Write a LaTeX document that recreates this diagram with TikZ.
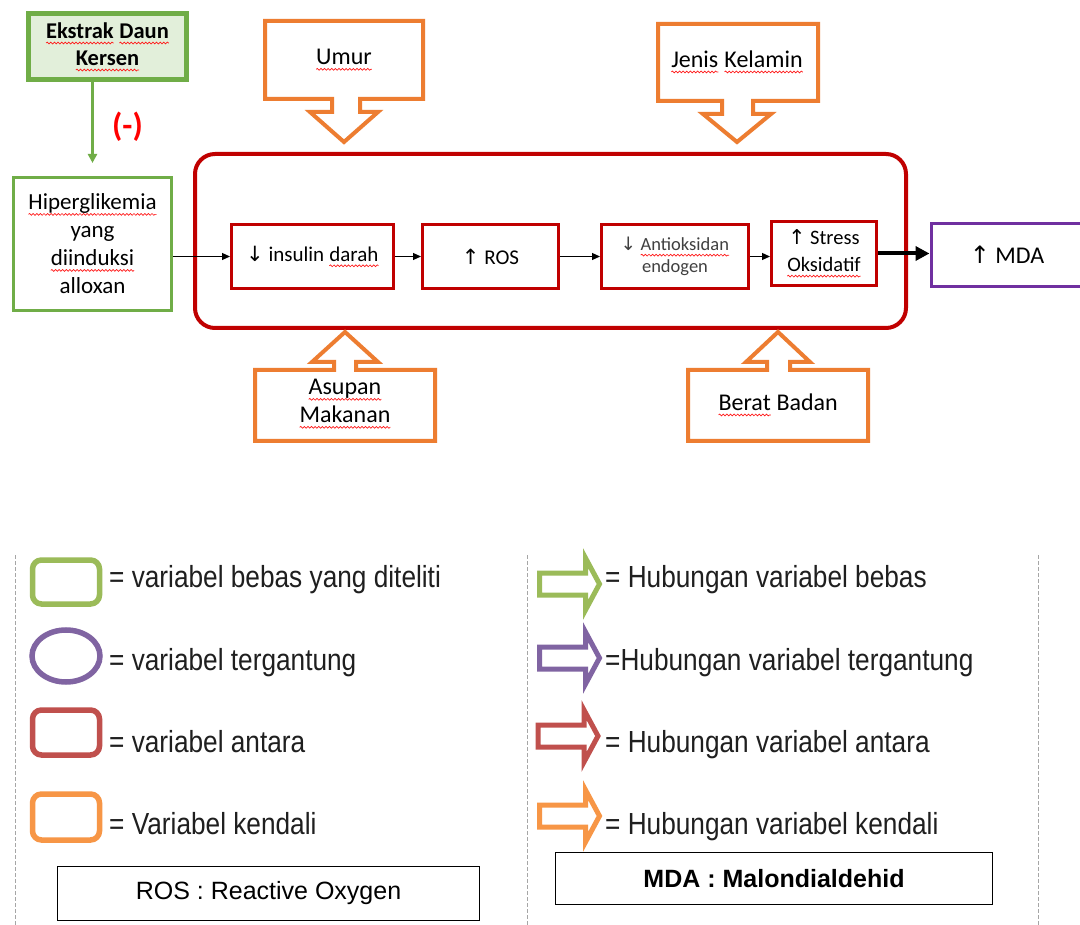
\documentclass[tikz,border=0pt]{standalone}
\usepackage{fontspec}
\setmainfont{Carlito}
\newfontfamily\arialf{Liberation Sans}
\newfontfamily\narrowf[FakeStretch=0.86]{Liberation Sans}
\newfontfamily\symf{DejaVu Sans}
\usetikzlibrary{arrows.meta,shapes.geometric,decorations.pathmorphing}
\definecolor{gd}{HTML}{70AD47}
\definecolor{gfill}{HTML}{E2EFDA}
\definecolor{rd}{HTML}{C00000}
\definecolor{org}{HTML}{ED7D31}
\definecolor{pur}{HTML}{7030A0}
\definecolor{lgreen}{HTML}{9BBB59}
\definecolor{lpur}{HTML}{8064A2}
\definecolor{lred}{HTML}{C0504D}
\definecolor{lorg}{HTML}{F79646}
\definecolor{negred}{HTML}{FF0000}
\newcommand\sq[1]{\tikz[baseline=(sqw.base)]{\node[shape=rectangle, inner sep=0pt, outer sep=0pt, minimum size=0pt, draw=none, fill=none, anchor=center] (sqw) {#1};
  \draw[red!90, line width=0.7pt, decorate, decoration={snake, amplitude=0.9pt, segment length=3.6pt}] ([yshift=-4.5pt]sqw.base west) -- ([yshift=-4.5pt]sqw.base east);}}
\newcommand\upa{{\symf ↑}}
\newcommand\dna{{\symf ↓}}
\begin{document}
\begin{tikzpicture}[x=1pt,y=-1pt,
  chainbox/.style={draw=rd, line width=3pt, minimum height=64pt, inner sep=0pt, align=center, font=\fontsize{21}{26}\selectfont},
  callout/.style={draw=org, line width=4pt, fill=white, line join=miter},
  ctext/.style={font=\fontsize{24}{28}\selectfont, align=center},
  conn/.style={-{Triangle[length=8pt,width=7pt]}, line width=1.2pt},
  lshape/.style={line width=5.5pt, rounded corners=9pt, minimum width=67pt, inner sep=0pt},
  ltext/.style={anchor=base west, font=\narrowf\fontsize{30.5}{34}\selectfont, text=black!88, inner sep=0pt},
  keybox/.style={draw, line width=1.2pt, inner sep=0pt},
  larrow/.pic={\draw[line width=5pt, line join=miter] (0,-11) -- (46,-11) -- (46,-26) -- (60,0) -- (46,26) -- (46,11) -- (0,11) -- cycle;}
]
\clip (0,0) rectangle (1080,925);
\fill[white] (0,0) rectangle (1080,925);

% top-left
\node[draw=gd, line width=5pt, fill=gfill, minimum width=158pt, minimum height=66pt, inner sep=0pt, align=center,
  font=\bfseries\fontsize{22.5}{27}\selectfont] (ek) at (107.5,47) {\sq{Ekstrak} \sq{Daun}\\\sq{Kersen}};
\node[draw=gd, line width=3pt, minimum width=158pt, minimum height=133pt, inner sep=0pt, align=center,
  font=\fontsize{23}{28}\selectfont] (hip) at (92.5,244) {\sq{Hiperglikemia}\\yang\\\sq{diinduksi}\\alloxan};
\coordinate (gtip) at (92.5,163);
\draw[gd, line width=2.5pt, -{Triangle[length=9pt,width=9pt]}] (ek.south -| hip.north) -- (gtip);
\node[text=negred, font=\bfseries\fontsize{33}{36}\selectfont] (neg) at (127.5,127) {(-)};

% frame
\node[draw=rd, line width=4pt, rounded corners=20pt, minimum width=711pt, minimum height=174pt] (frame) at (550.5,241) {};

% chain
\node[chainbox, minimum width=162pt] (ins) at (312.5,256.5) {\dna\ insulin \sq{darah}};
\node[chainbox, minimum width=136pt] (ros) at (490.5,256.5) {\upa\ ROS};
\node[chainbox, minimum width=147pt, font=\fontsize{18.5}{22}\selectfont, text=black!75] (anti) at (675,256.5) {\dna\ \sq{Antioksidan}\\endogen};
\node[chainbox, minimum width=105pt, font=\fontsize{20.5}{27}\selectfont] (str) at (824,253.5) {\upa\ Stress\\\sq{Oksidatif}};
\node[draw=pur, line width=3pt, minimum width=152pt, minimum height=63pt, font=\fontsize{24}{26}\selectfont] (mda) at (1007,255) {\upa\ MDA};

\draw[conn] (hip.east |- ins.west) -- (ins.west);
\draw[conn] (ins.east) -- (ros.west);
\draw[conn] (ros.east) -- (anti.west);
\draw[conn] (anti.east) -- (anti.east -| str.west);
\draw[line width=4pt, -{Triangle[length=14pt,width=14pt]}] (str.east) -- (str.east -| mda.west);

% callouts
\draw[callout] (265,21) -- (423,21) -- (423,99) -- (360,99) -- (360,112) -- (378,112) -- (344,142) -- (310,112) -- (332,112) -- (332,99) -- (265,99) -- cycle;
\node[ctext] (umur) at (344,60) {\sq{Umur}};
\draw[callout] (658,24) -- (818,24) -- (818,101) -- (753,101) -- (753,114) -- (771,114) -- (737,142) -- (703,114) -- (722,114) -- (722,101) -- (658,101) -- cycle;
\node[ctext] (jenis) at (737,62) {\sq{Jenis} \sq{Kelamin}};
\draw[callout] (255,441) -- (435,441) -- (435,370) -- (356,370) -- (356,362) -- (378,362) -- (345,332) -- (312,362) -- (334,362) -- (334,370) -- (255,370) -- cycle;
\node[ctext] (asupan) at (345,404) {\sq{Asupan}\\\sq{Makanan}};
\draw[callout] (688,441) -- (868,441) -- (868,370) -- (790,370) -- (790,362) -- (810,362) -- (778,332) -- (746,362) -- (767,362) -- (767,370) -- (688,370) -- cycle;
\node[ctext] (berat) at (778,405) {\sq{Berat} Badan};

% legend separators
\foreach \lx in {15,527,1038}
  \draw[gray!70, line width=0.8pt, dash pattern=on 4pt off 2pt] (\lx,555) -- (\lx,925);

% legend left
\node[lshape, draw=lgreen, minimum height=44pt] (lg) at (66,582) {};
\node[ellipse, draw=lpur, line width=5.5pt, minimum width=68pt, minimum height=52pt, inner sep=0pt] (lp) at (66,656) {};
\node[lshape, draw=lred, minimum height=45pt] (lr) at (66,732.5) {};
\node[lshape, draw=lorg, minimum height=46pt] (lo) at (66,817) {};
\node[ltext] (tg) at (109,587) {= variabel bebas yang diteliti};
\node[ltext] (tp) at (109,670) {= variabel tergantung};
\node[ltext] (tr) at (109,752) {= variabel antara};
\node[ltext] (to) at (109,834) {= Variabel kendali};

% legend right
\pic[color=lgreen] at (539.5,584) {larrow};
\pic[color=lpur] at (539.5,658) {larrow};
\pic[color=lred] at (538,736) {larrow};
\pic[color=lorg] at (539.5,816) {larrow};
\node[ltext] (hg) at (605,587) {= Hubungan variabel bebas};
\node[ltext] (hp) at (605,670) {=Hubungan variabel tergantung};
\node[ltext] (hr) at (605,752) {= Hubungan variabel antara};
\node[ltext] (ho) at (605,834) {= Hubungan variabel kendali};

% key boxes
\node[keybox, minimum width=422pt, minimum height=54pt, font=\arialf\fontsize{25}{30}\selectfont] (rosbox) at (268.5,893.5) {ROS : Reactive Oxygen};
\node[keybox, minimum width=437pt, minimum height=52pt, font=\arialf\bfseries\fontsize{25}{30}\selectfont] (mdabox) at (774,878.5) {MDA : Malondialdehid};
\end{tikzpicture}
\end{document}
